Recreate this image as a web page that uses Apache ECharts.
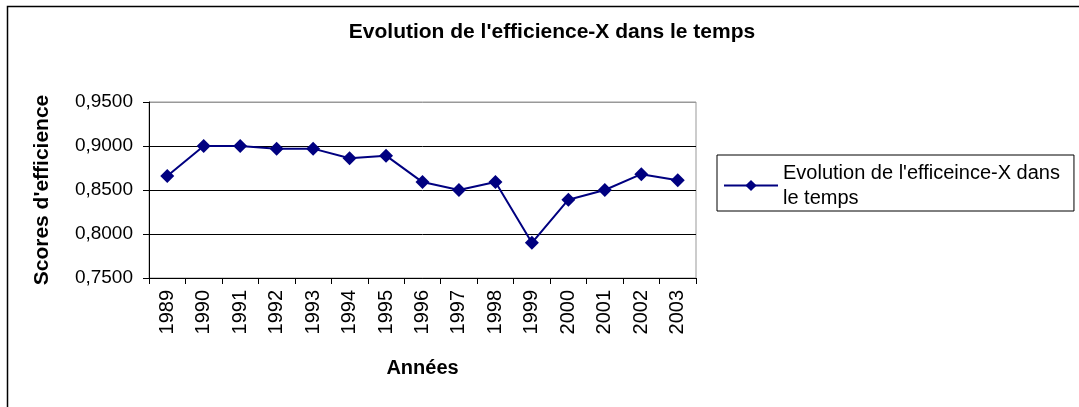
<!DOCTYPE html>
<html>
<head>
<meta charset="utf-8">
<script src="https://cdn.jsdelivr.net/npm/echarts@6/dist/echarts.min.js"></script>
<style>
html,body{margin:0;padding:0;background:#fff;}
#chart{width:1079px;height:407px;}
</style>
</head>
<body>
<div id="chart"></div>
<script>
const years = ['1989','1990','1991','1992','1993','1994','1995','1996','1997','1998','1999','2000','2001','2002','2003'];
const scores = [0.866,0.900,0.900,0.897,0.897,0.886,0.889,0.859,0.850,0.859,0.790,0.839,0.850,0.868,0.861];
const yTicks = [0.75,0.80,0.85,0.90,0.95];
const seriesName = "Evolution de l'efficeince-X dans le temps";

const chart = echarts.init(document.getElementById('chart'));
const font = 'Liberation Sans, Arial, sans-serif';
chart.setOption({
  backgroundColor:'#fff',
  animation:false,
  title:{
    text:"Evolution de l'efficience-X dans le temps",
    left:547, top:17, textAlign:'center',
    textStyle:{fontFamily:font,fontSize:21,fontWeight:'bold',color:'#000'}
  },
  graphic:[{
    type:'rect', left:5, top:4, shape:{width:1200,height:600},
    style:{fill:'none',stroke:'#000',lineWidth:1.5}, silent:true, z:-1
  }],
  legend:{
    left:717, top:155, orient:'vertical',
    itemWidth:54, itemHeight:14, itemGap:0,
    padding:[8,14,3,6],
    borderColor:'#000', borderWidth:1,
    formatter:function(){return "Evolution de l'efficeince-X dans\nle temps";},
    textStyle:{fontFamily:font,fontSize:20,color:'#000',lineHeight:25,padding:[0,0,-25,0]},
    data:[seriesName]
  },
  grid:{left:149,right:383,top:102,bottom:129,show:true,borderColor:'#999',borderWidth:1},
  xAxis:{
    type:'category', data:years, boundaryGap:true,
    name:'Années', nameLocation:'middle', nameGap:80,
    nameTextStyle:{fontFamily:font,fontSize:20,fontWeight:'bold',color:'#000'},
    axisLine:{lineStyle:{color:'#000',width:1}},
    axisTick:{show:true,interval:0,length:6,lineStyle:{color:'#000'}},
    axisLabel:{rotate:90,interval:0,margin:12,fontFamily:font,fontSize:20,color:'#000'}
  },
  yAxis:{
    type:'value', min:yTicks[0], max:yTicks[yTicks.length-1], interval:0.05,
    name:"Scores d'efficience", nameLocation:'middle', nameGap:96,
    nameTextStyle:{fontFamily:font,fontSize:21,fontWeight:'bold',color:'#000'},
    axisLine:{show:true,lineStyle:{color:'#000',width:1}},
    axisTick:{show:true,length:6,lineStyle:{color:'#000'}},
    axisLabel:{margin:16,fontFamily:font,fontSize:19,color:'#000',
      formatter:function(v){return v.toFixed(4).replace('.',',');}},
    splitLine:{show:true,lineStyle:{color:['#000','#000','#000','#000','#999'],width:1}}
  },
  series:[{
    name:seriesName, type:'line', data:scores,
    symbol:'diamond', symbolSize:14,
    lineStyle:{color:'#000080',width:2},
    itemStyle:{color:'#000080'}
  }]
});
</script>
</body>
</html>
